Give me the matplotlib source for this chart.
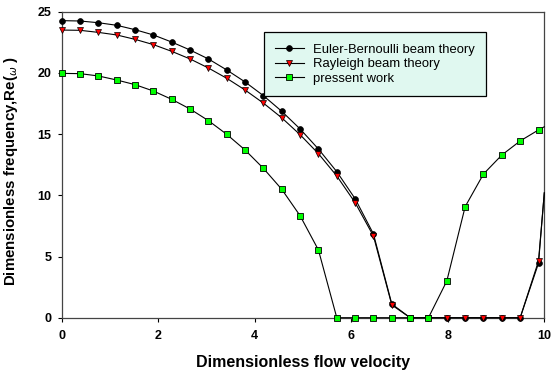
import matplotlib
matplotlib.use("Agg")
import matplotlib.pyplot as plt

# flow velocity samples (last one has no marker, it's where the curve leaves the box)
velocity = [0.00, 0.38, 0.76, 1.14, 1.52, 1.90, 2.28, 2.66, 3.04, 3.42,
            3.80, 4.18, 4.56, 4.94, 5.32, 5.70, 6.08, 6.46, 6.84, 7.22,
            7.60, 7.98, 8.36, 8.74, 9.12, 9.50, 9.88, 10.00]

euler = [24.27, 24.24, 24.10, 23.89, 23.53, 23.10, 22.52, 21.87, 21.14, 20.24,
         19.26, 18.14, 16.86, 15.42, 13.78, 11.93, 9.72, 6.84, 1.12, 0.0,
         0.0, 0.0, 0.0, 0.0, 0.0, 0.0, 4.45, 10.2]
rayleigh = [23.50, 23.48, 23.31, 23.10, 22.74, 22.31, 21.76, 21.14, 20.40, 19.56,
            18.60, 17.53, 16.33, 14.95, 13.40, 11.58, 9.40, 6.67, 1.04, 0.0,
            0.0, 0.0, 0.0, 0.0, 0.0, 0.0, 4.63, 10.2]
present = [19.96, 19.94, 19.75, 19.42, 19.04, 18.52, 17.84, 17.05, 16.10, 14.98,
           13.70, 12.20, 10.49, 8.33, 5.53, 0.0, 0.0, 0.0, 0.0, 0.0,
           0.0, 3.00, 9.07, 11.74, 13.29, 14.44, 15.34, 15.6]

labels = ['Euler-Bernoulli beam theory', 'Rayleigh beam theory', 'pressent work']
xticks = [0, 2, 4, 6, 8, 10]
yticks = [0, 5, 10, 15, 20, 25]

plt.rcParams['font.family'] = ['Liberation Sans', 'DejaVu Sans']

fig = plt.figure(figsize=(5.51, 3.75), dpi=100)
ax = fig.add_axes([61.7/551, 1 - 317.7/375, 482.6/551, 306/375])

marks = slice(0, 27)
ax.plot(velocity, euler, color='black', lw=0.8, marker='o', ms=4.2,
        mfc='black', mec='black', mew=0.5, markevery=marks, clip_on=False,
        label=labels[0], zorder=3)
ax.plot(velocity, rayleigh, color='black', lw=0.8, marker='v', ms=4.6,
        mfc='red', mec='black', mew=0.5, markevery=marks, clip_on=False,
        label=labels[1], zorder=4)
ax.plot(velocity, present, color='black', lw=0.8, marker='s', ms=3.8,
        mfc='#00ff00', mec='black', mew=0.6, markevery=marks, clip_on=False,
        label=labels[2], zorder=5)

ax.set_xlim(0, 10)
ax.set_ylim(0, 25)
ax.set_xticks(xticks)
ax.set_yticks(yticks)
ax.tick_params(direction='out', length=3, width=0.8, labelsize=9)
ax.tick_params(axis='x', pad=6)
ax.tick_params(axis='y', pad=4.5)
for lab in ax.get_xticklabels() + ax.get_yticklabels():
    lab.set_fontweight('bold')
for sp in ax.spines.values():
    sp.set_color('#444444')
    sp.set_linewidth(0.9)

ax.set_xlabel('Dimensionless flow velocity', fontsize=11.5, fontweight='bold', labelpad=9)
ax.set_ylabel(r'Dimensionless frequency,Re($_{\omega}$ )', fontsize=10.8,
              fontweight='bold')
ax.yaxis.set_label_coords(-0.086, 0.48)

leg = ax.legend(loc='upper left', bbox_to_anchor=(0.419, 0.9327), borderaxespad=0,
                fontsize=9.4, frameon=True, fancybox=False, edgecolor='black',
                facecolor='#e0f8f0', framealpha=1, handlelength=2.2,
                borderpad=0.85, labelspacing=0.2, handletextpad=0.7)
leg.get_frame().set_linewidth(0.9)

fig.savefig('out.png', dpi=100)
